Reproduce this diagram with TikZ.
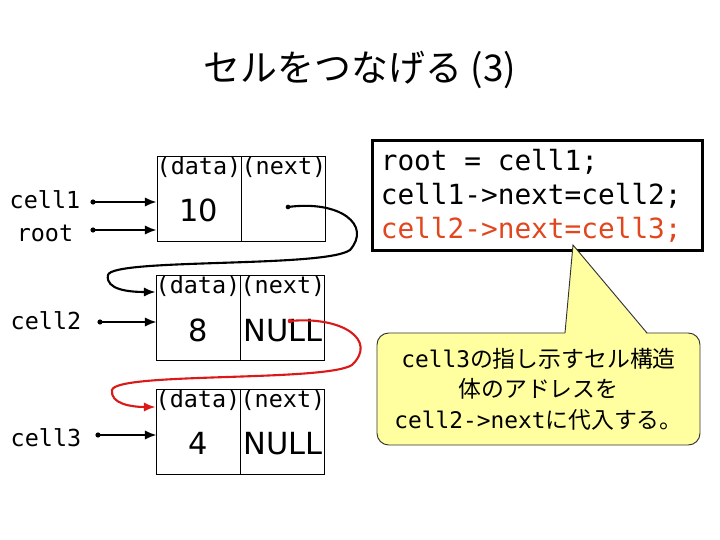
\documentclass[tikz,border=0pt]{standalone}
\usepackage{fontspec}
\setmainfont{DejaVu Sans}
\setmonofont{DejaVu Sans Mono}
\newfontfamily\jpfont{Noto Sans CJK JP}
\usetikzlibrary{positioning,arrows.meta}
\definecolor{linkred}{RGB}{220,25,25}
\definecolor{codered}{RGB}{225,70,30}
\definecolor{noteyellow}{RGB}{255,255,160}
\newcommand\monosp{\hspace*{0.602em}}
\tikzset{
  half/.style={draw, line width=0.8pt, inner sep=0pt, minimum width=2.52cm, minimum height=2.55cm},
  fld/.style={anchor=north, inner sep=1pt, font=\ttfamily\fontsize{20}{22}\selectfont},
  val/.style={inner sep=0pt, font=\fontsize{26}{30}\selectfont},
  var/.style={inner sep=0pt, font=\ttfamily\fontsize{20}{22}\selectfont},
  ptr/.style={line width=1.6pt, -{Latex[length=10pt,width=8pt]}},
  link/.style={line width=1.8pt, -{Latex[length=10pt,width=8pt]}},
}
\begin{document}
\begin{tikzpicture}[x=0.03cm, y=-0.03cm]
    \useasboundingbox (0,0) rectangle (720,540);

    \node[font=\jpfont\fontsize{31.5}{36}\selectfont] (title) at (360,70) {セルをつなげる (3)};

    % the three cells
    \node[half] (d1) at (199,198.5) {};
    \node[half, right=0pt of d1] (n1) {};
    \node[half] (d2) at (198,317.5) {};
    \node[half, right=0pt of d2] (n2) {};
    \node[half] (d3) at (198,431.5) {};
    \node[half, right=0pt of d3] (n3) {};

    \node[fld] at (d1.north) {(data)};
    \node[fld] at (n1.north) {(next)};
    \node[fld] at (d2.north) {(data)};
    \node[fld] at (n2.north) {(next)};
    \node[fld] at (d3.north) {(data)};
    \node[fld] at (n3.north) {(next)};

    \node[val] (v1) at ([yshift=-10pt]d1.center) {10};
    \node[val] (v2) at ([yshift=-11pt]d2.center) {8};
    \node[val] (v3) at ([yshift=-10.5pt]d3.center) {4};
    \node[val] (null2) at ([yshift=-11pt]n2.center) {NULL};
    \node[val] (null3) at ([yshift=-10.5pt]n3.center) {NULL};

    % pointer variables
    \node[var] (cell1) at (45,200) {cell1};
    \node[var] (root) at (45,233) {root};
    \node[var] (cell2) at (46,321) {cell2};
    \node[var] (cell3) at (46,438) {cell3};

    \coordinate (p1) at (93,202);
    \coordinate (pr) at (93,230);
    \coordinate (p2) at (100,322);
    \coordinate (p3) at (98,435);
    \foreach \p in {p1,pr,p2,p3} {
        \fill (\p) circle (2.2pt);
        \draw[ptr] (\p) -- (\p -| d1.west);
    }

    % next links
    \coordinate (s1) at (288,207);
    \coordinate (s2) at (290,321);
    \fill (s1) circle (2pt);
    \fill[linkred] (s2) circle (2pt);
    \draw[link] (s1) .. controls (340,200) and (372,225) .. (350,250)
        .. controls (325,268) and (112,258) .. (108,275)
        .. controls (105,290) and (130,292) .. (d2.north west |- 0,292);
    \draw[link, linkred] (s2) .. controls (342,316) and (378,340) .. (352,365)
        .. controls (325,382) and (116,372) .. (112,390)
        .. controls (110,404) and (132,407) .. (d3.north west |- 0,407);

    % code
    \node[draw, line width=2.5pt, anchor=north west, minimum width=9.9cm, minimum height=3.3cm,
          inner xsep=3pt, text width=9.4cm, align=left,
          font=\ttfamily\fontsize{23.7}{29}\selectfont] (code) at (371,139)
        {root\monosp=\monosp cell1;\\cell1->next=cell2;\\\textcolor{codered}{cell2->next=cell3;}};

    % note
    \node[draw=black!80, fill=noteyellow, line width=0.8pt, rounded corners=10pt,
          minimum width=9.69cm, minimum height=3.36cm, align=center,
          font=\fontsize{19.5}{26}\selectfont] (note) at (538.5,389)
        {{\ttfamily cell3}{\jpfont の指し示すセル構造}\\{\jpfont 体のアドレスを}\\{\ttfamily cell2->next}{\jpfont に代入する。}};
    \fill[noteyellow] (565,334.5) -- (573,245) -- (647,334.5) -- cycle;
    \draw[black!80, line width=0.8pt] (565,333) -- (573,245) -- (647,333);
\end{tikzpicture}
\end{document}
